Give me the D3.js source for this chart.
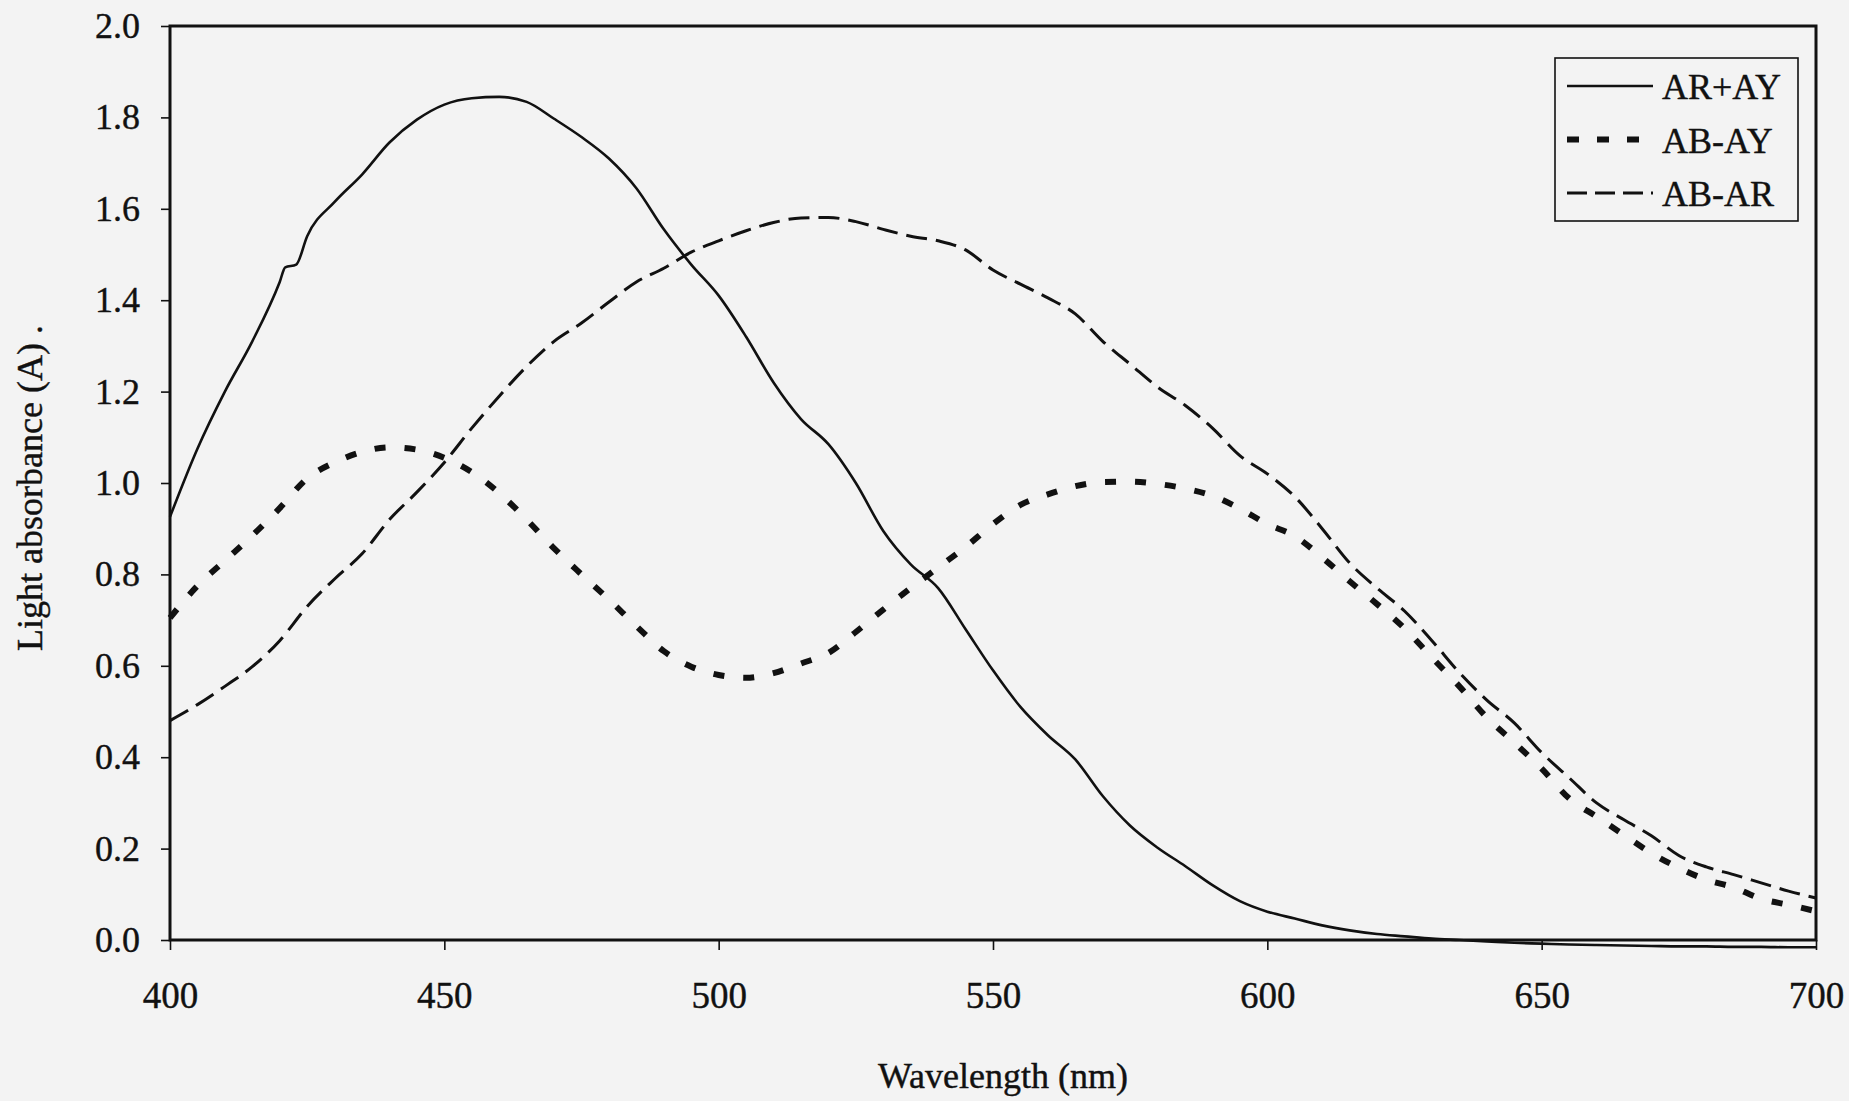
<!DOCTYPE html>
<html>
  <head>
    <meta charset="UTF-8">
    <title>Light absorbance</title>
    <script src="https://cdn.jsdelivr.net/npm/d3@7"></script>
    <style>
      body { margin: 0; background: #f3f3f3; }
      text { font-family: "Liberation Serif", "Times New Roman", serif; fill: #111; stroke: #111; stroke-width: 0.4px; }
    </style>
  </head>
  <body>
    <svg width="1849" height="1101"></svg>
    <script>
      // wavelengths (nm)
      var wavelength = [400,405,410,415,420,425,430,435,440,445,450,455,460,465,470,475,480,485,490,495,
        500,505,510,515,520,525,530,535,540,545,550,555,560,565,570,575,580,585,590,595,
        600,605,610,615,620,625,630,635,640,645,650,655,660,665,670,675,680,685,690,695,700];

      // AR+AY has a small step near 422 nm
      var wlArAy = [400,405,410,415,420,421,423,425,430,435,440,445,450,455,460,465,470,475,480,485,490,495,
        500,505,510,515,520,525,530,535,540,545,550,555,560,565,570,575,580,585,590,595,
        600,605,610,615,620,625,630,635,640,645,650,655,660,665,670,675,680,685,690,695,700];
      var arAy = [0.926,1.075,1.20,1.31,1.44,1.472,1.478,1.54,1.615,1.675,1.745,1.795,1.828,1.842,1.845,1.834,1.797,1.757,1.71,1.645,1.555,1.478,
        1.41,1.32,1.22,1.14,1.085,1.0,0.895,0.822,0.77,0.68,0.59,0.51,0.448,0.395,0.315,0.25,0.202,0.162,0.12,0.085,
        0.062,0.047,0.032,0.021,0.013,0.008,0.003,0.0,-0.003,-0.006,-0.008,-0.01,-0.011,-0.012,-0.013,-0.014,-0.014,-0.015,-0.015,-0.016,-0.016];

      var abAy = [0.705,0.775,0.83,0.885,0.945,1.01,1.045,1.068,1.078,1.073,1.055,1.024,0.978,0.92,0.857,0.80,0.745,0.687,0.632,0.598,
        0.58,0.574,0.584,0.605,0.628,0.674,0.723,0.77,0.815,0.86,0.91,0.952,0.975,0.993,1.002,1.003,0.998,0.988,0.972,0.944,
        0.91,0.884,0.837,0.785,0.735,0.682,0.618,0.555,0.487,0.432,0.375,0.31,0.27,0.23,0.19,0.158,0.132,0.115,0.09,0.077,0.063];

      var abAr = [0.48,0.515,0.555,0.598,0.655,0.73,0.79,0.845,0.92,0.98,1.045,1.12,1.19,1.255,1.31,1.35,1.396,1.44,1.47,1.505,
        1.53,1.552,1.57,1.58,1.581,1.572,1.555,1.54,1.53,1.51,1.466,1.435,1.405,1.37,1.31,1.26,1.21,1.17,1.12,1.06,
        1.02,0.97,0.90,0.825,0.77,0.72,0.655,0.585,0.525,0.475,0.41,0.355,0.30,0.263,0.228,0.185,0.16,0.143,0.125,0.107,0.092];

      var xTicks = [400,450,500,550,600,650,700];
      var yTicks = [0,0.2,0.4,0.6,0.8,1.0,1.2,1.4,1.6,1.8,2.0];

      var series = [
        {name:"AR+AY", x:wlArAy, y:arAy, width:2.6, dash:null},
        {name:"AB-AY", x:wavelength, y:abAy, width:6, dash:"11,19"},
        {name:"AB-AR", x:wavelength, y:abAr, width:3, dash:"21,9"}
      ];

      var marge = {top:26, left:170, right:33, bottom:161};
      var svg = d3.select("svg");
      var width = +svg.attr("width");
      var height = +svg.attr("height");
      var w = width - marge.left - marge.right;
      var h = height - marge.top - marge.bottom;
      var g = svg.append("g")
        .attr("transform","translate("+marge.left+","+marge.top+")");

      var xScale = d3.scaleLinear().domain([400,700]).range([0,w]);
      var yScale = d3.scaleLinear().domain([0,2]).range([h,0]);

      // axes
      var xAxis = d3.axisBottom(xScale).tickValues(xTicks).tickSize(10).tickPadding(32).tickFormat(d3.format("d"));
      var yAxis = d3.axisLeft(yScale).tickValues(yTicks).tickSize(9).tickPadding(21).tickFormat(d3.format(".1f"));

      var gx = g.append("g").attr("transform","translate(0,"+h+")").call(xAxis);
      var gy = g.append("g").call(yAxis);
      gx.selectAll("text").style("font-size","37px");
      gy.selectAll("text").style("font-size","36px");
      [gx, gy].forEach(function(a){
        a.select(".domain").remove();
        a.selectAll("line").attr("stroke","#111").attr("stroke-width",1.6);
        a.selectAll("text").attr("fill","#111");
      });

      // frame
      g.append("rect")
        .attr("x",0).attr("y",0).attr("width",w).attr("height",h)
        .attr("fill","none").attr("stroke","#111").attr("stroke-width",3);

      // curves
      var line = d3.line()
        .x(function(d){ return xScale(d[0]); })
        .y(function(d){ return yScale(d[1]); })
        .curve(d3.curveMonotoneX);

      series.forEach(function(s){
        var pts = s.x.map(function(v,i){ return [v, s.y[i]]; });
        g.append("path")
          .datum(pts)
          .attr("d", line)
          .attr("fill","none")
          .attr("stroke","#111")
          .attr("stroke-width", s.width)
          .attr("stroke-dasharray", s.dash);
      });

      // legend
      var lg = g.append("g").attr("transform","translate("+(1555-marge.left)+","+(58-marge.top)+")");
      lg.append("rect")
        .attr("width",243).attr("height",163)
        .attr("fill","#f3f3f3").attr("stroke","#111").attr("stroke-width",1.6);
      series.forEach(function(s,i){
        var yy = 28 + i*53.5;
        lg.append("line")
          .attr("x1",12).attr("x2",98).attr("y1",yy).attr("y2",yy)
          .attr("stroke","#111").attr("stroke-width", s.width)
          .attr("stroke-dasharray", s.dash ? (i==1 ? "12,18" : "20,8") : null);
        lg.append("text")
          .attr("x",107).attr("y",yy+13)
          .style("font-size","36px")
          .text(s.name);
      });

      // axis titles
      svg.append("text")
        .attr("x",1003).attr("y",1088)
        .attr("text-anchor","middle")
        .style("font-size","36px")
        .text("Wavelength (nm)");
      svg.append("text")
        .attr("transform","translate(42,488) rotate(-90)")
        .attr("text-anchor","middle")
        .style("font-size","36px")
        .text("Light absorbance (A) .");
    </script>
  </body>
</html>
